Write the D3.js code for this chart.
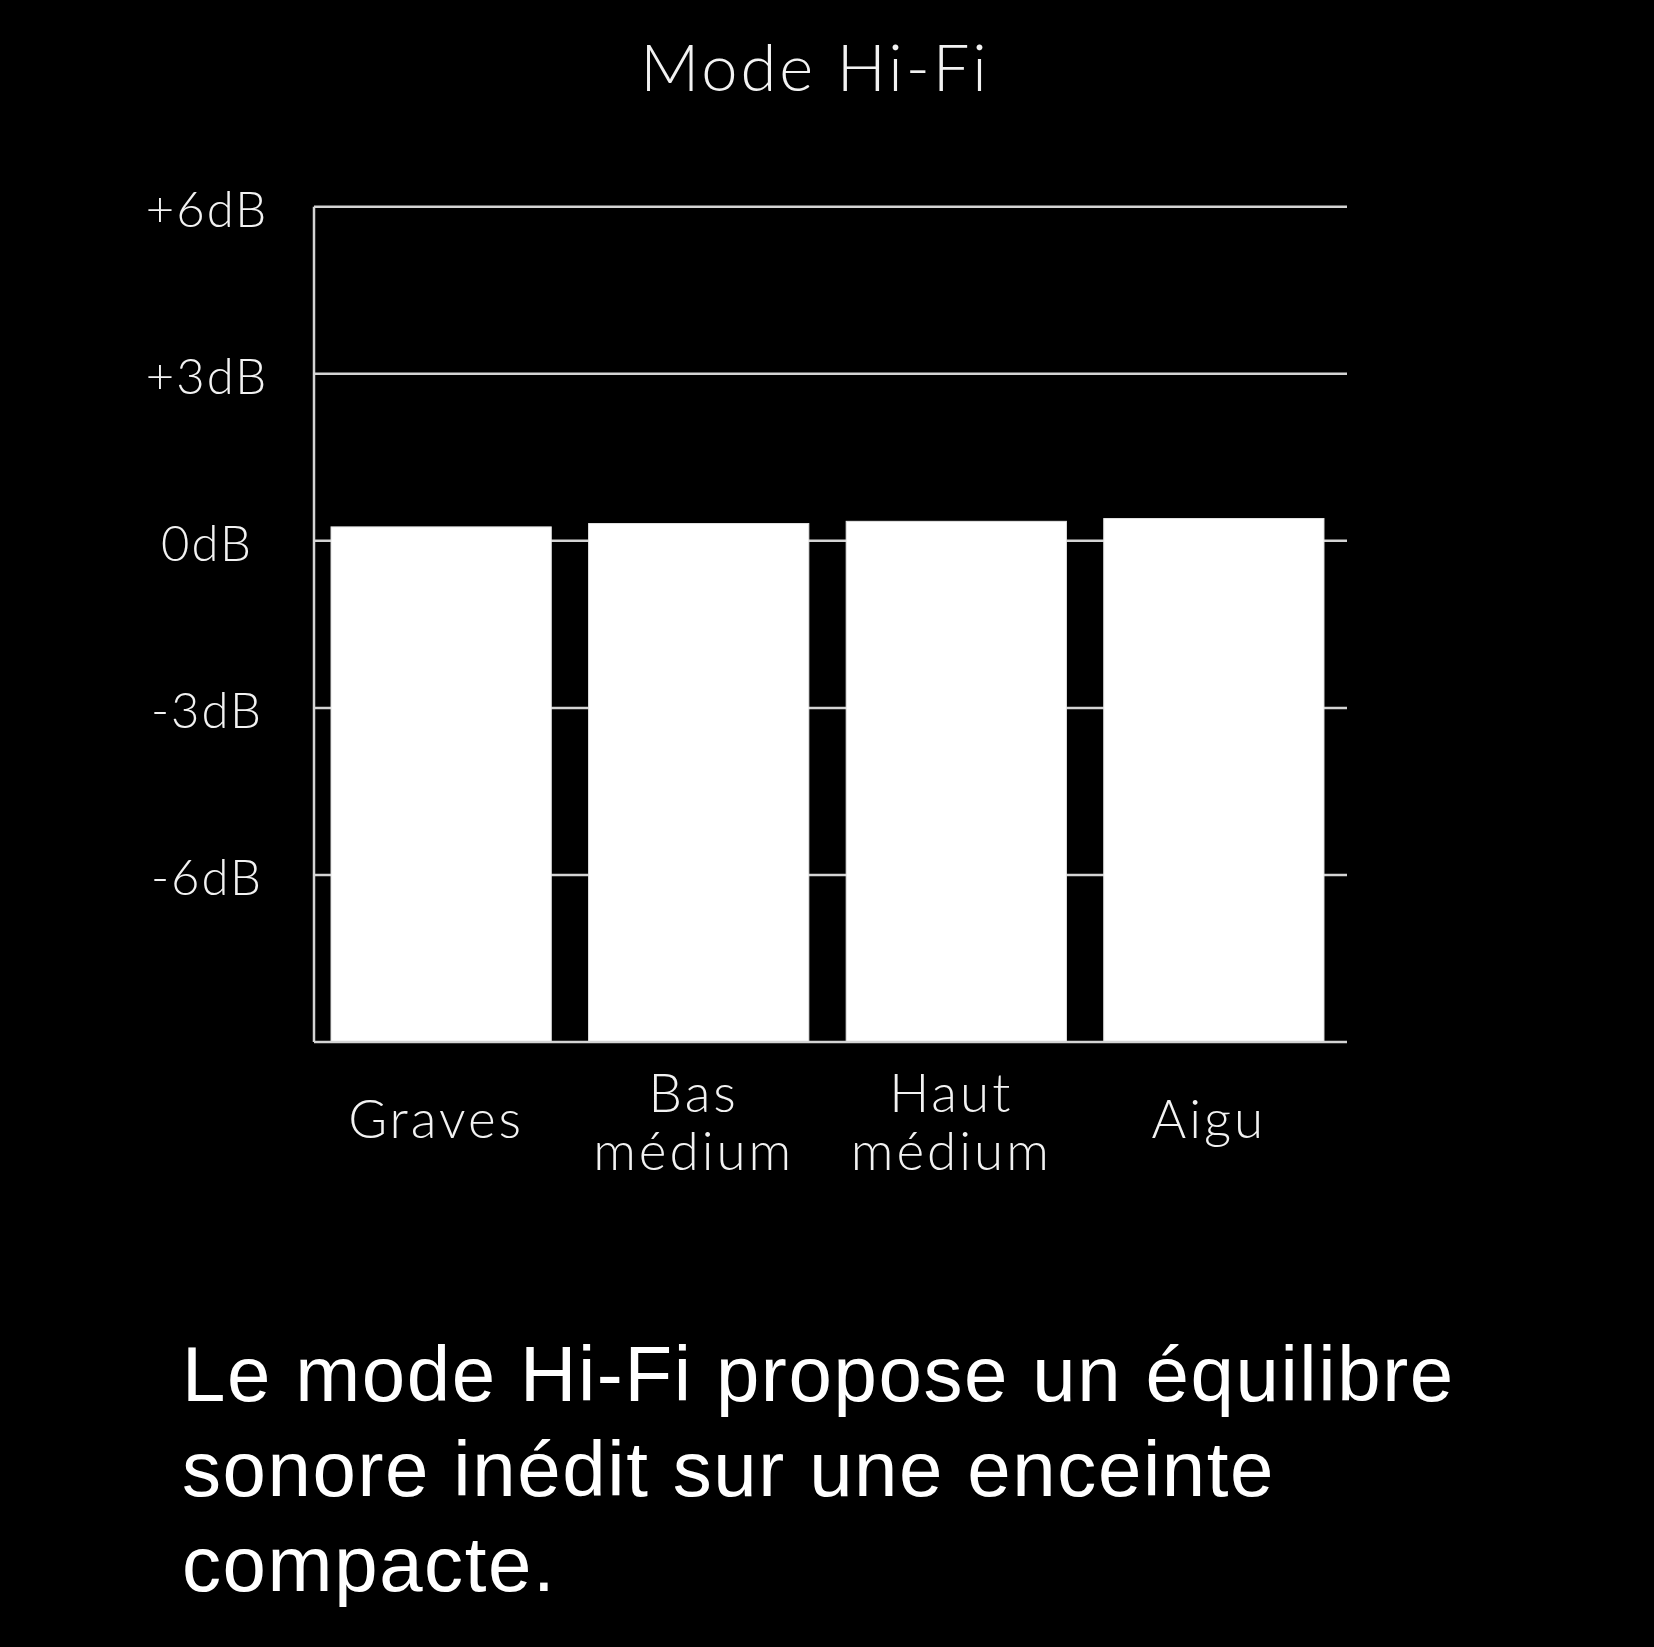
<!DOCTYPE html>
<html>
<head>
<meta charset="utf-8">
<script src="https://cdn.jsdelivr.net/npm/d3@7"></script>
<style>
  html, body { margin: 0; padding: 0; background: #000; }
  svg { display: block; }
</style>
</head>
<body>
<script>
// ---- data ----
const title = "Mode Hi-Fi";
const categories = [["Graves"], ["Bas", "médium"], ["Haut", "médium"], ["Aigu"]];
const values = [0.25, 0.31, 0.35, 0.40];           // dB
const tickValues = [6, 3, 0, -3, -6];
const tickLabels = ["+6dB", "+3dB", "0dB", "-3dB", "-6dB"];
const yDomain = [-9, 6];
const caption = [
  "Le mode Hi-Fi propose un équilibre",
  "sonore inédit sur une enceinte",
  "compacte."
];

// ---- layout ----
const W = 1654, H = 1647;
const axisX = 314, gridEnd = 1347;
const yTop = 206.7, yBottom = 1042;

const svg = d3.select("body").append("svg")
  .attr("width", W).attr("height", H)
  .style("background", "#000");

const x = d3.scaleBand()
  .domain(categories.map(c => c.join(" ")))
  .range([313, 1342])
  .paddingInner(0.145)
  .paddingOuter(0.07);

const y = d3.scaleLinear().domain(yDomain).range([yBottom, yTop]);

const lineColor = "#d4d4d4";
const labelFont = "Lato, 'Open Sans', sans-serif";

// title
svg.append("text")
  .attr("x", 815).attr("y", 91)
  .attr("text-anchor", "middle")
  .attr("fill", "#f2f2f2")
  .style("font-family", labelFont)
  .style("font-weight", 300)
  .style("font-size", "65px")
  .style("letter-spacing", "3px")
  .text(title);

// gridlines (behind bars)
svg.append("g")
  .selectAll("line")
  .data(tickValues)
  .join("line")
  .attr("x1", axisX).attr("x2", gridEnd)
  .attr("y1", d => y(d)).attr("y2", d => y(d))
  .attr("stroke", lineColor)
  .attr("stroke-width", 2.5);

// bars
svg.append("g")
  .selectAll("rect")
  .data(values)
  .join("rect")
  .attr("x", (d, i) => x(categories[i].join(" ")))
  .attr("width", x.bandwidth())
  .attr("y", d => y(d))
  .attr("height", d => y(yDomain[0]) - y(d))
  .attr("fill", "#ffffff")
  .attr("stroke", "#e6e6e6")
  .attr("stroke-width", 1);

// y axis
const yAxis = d3.axisLeft(y)
  .tickValues(tickValues)
  .tickSize(0)
  .tickPadding(0)
  .tickFormat((d, i) => tickLabels[i]);

const gy = svg.append("g")
  .attr("transform", `translate(${axisX},0)`)
  .call(yAxis);
gy.select(".domain")
  .attr("d", `M0,${yTop}V${yBottom}`)
  .attr("stroke", lineColor)
  .attr("stroke-width", 2.5);
gy.selectAll(".tick text")
  .attr("x", 207 - axisX)
  .attr("dy", "0.4em")
  .attr("text-anchor", "middle")
  .attr("fill", "#f2f2f2")
  .style("font-family", labelFont)
  .style("font-weight", 300)
  .style("font-size", "49px")
  .style("letter-spacing", "2px");

// bottom axis line
svg.append("line")
  .attr("x1", axisX).attr("x2", gridEnd)
  .attr("y1", yBottom).attr("y2", yBottom)
  .attr("stroke", lineColor)
  .attr("stroke-width", 2.5);

// category labels
const xl = svg.append("g")
  .selectAll("text")
  .data(categories)
  .join("text")
  .attr("text-anchor", "middle")
  .attr("fill", "#f2f2f2")
  .style("font-family", labelFont)
  .style("font-weight", 300)
  .style("font-size", "53px")
  .style("letter-spacing", "3px");
xl.each(function(c) {
  const cx = x(c.join(" ")) + x.bandwidth() / 2 - 5;
  const t = d3.select(this);
  if (c.length === 1) {
    t.append("tspan").attr("x", cx).attr("y", 1138).text(c[0]);
  } else {
    t.append("tspan").attr("x", cx).attr("y", 1112).text(c[0]);
    t.append("tspan").attr("x", cx).attr("y", 1170).text(c[1]);
  }
});

// caption
svg.append("g")
  .selectAll("text")
  .data(caption)
  .join("text")
  .attr("x", 182)
  .attr("y", (d, i) => 1401 + i * 95)
  .attr("fill", "#ffffff")
  .style("font-family", "'Liberation Sans', Arial, Helvetica, sans-serif")
  .style("font-size", "78px")
  .style("letter-spacing", "1.6px")
  .text(d => d);
</script>
</body>
</html>
